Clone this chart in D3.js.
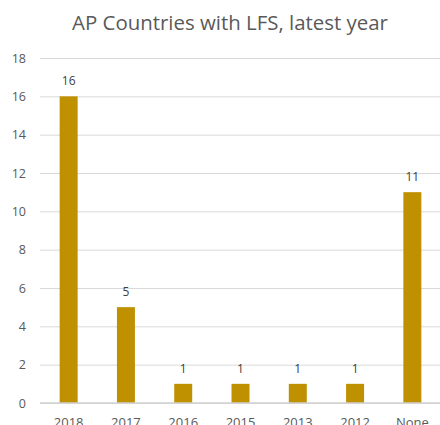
<!DOCTYPE html>
<html>
<head>
<meta charset="utf-8">
<script src="https://cdn.jsdelivr.net/npm/d3@7"></script>
<style>
  html, body { margin: 0; padding: 0; background: #fff; }
  svg { display: block; font-family: "Open Sans", "Noto Sans", sans-serif; }
  svg text { font-family: "Open Sans", "Noto Sans", sans-serif; }
</style>
</head>
<body>
<svg id="chart" width="440" height="425"></svg>
<script>
const categories = ["2018", "2017", "2016", "2015", "2013", "2012", "None"];
const counts = [16, 5, 1, 1, 1, 1, 11];
const yTicks = [0, 2, 4, 6, 8, 10, 12, 14, 16, 18];
const title = "AP Countries with LFS, latest year";

const svg = d3.select("#chart");
const W = 440, H = 425;
const m = { left: 40, right: -1, top: 58, bottom: 22 };

const x = d3.scaleBand()
  .domain(categories)
  .range([m.left, W - m.right])
  .paddingInner(0.686)
  .paddingOuter(0.343);

const y = d3.scaleLinear()
  .domain([0, 18])
  .range([H - m.bottom, m.top]);

// title, sized to span its intended width
const titleText = svg.append("text")
  .attr("x", 230)
  .attr("y", 30)
  .attr("text-anchor", "middle")
  .attr("fill", "#595959")
  .style("font-size", "20px")
  .text(title);
const tw = titleText.node().getComputedTextLength();
titleText.style("font-size", (20 * 316 / tw).toFixed(2) + "px");

// gridlines and value axis labels
const yAxis = d3.axisLeft(y)
  .tickValues(yTicks)
  .tickSize(-(W - m.left))
  .tickPadding(14);

const gy = svg.append("g")
  .attr("transform", `translate(${m.left},0)`)
  .call(yAxis);
gy.select(".domain").remove();
gy.selectAll(".tick line").attr("stroke", "#d9d9d9").attr("stroke-width", 1);
gy.selectAll(".tick text")
  .attr("fill", "#595959")
  .style("font-size", "12.5px");

// bars
svg.append("g")
  .selectAll("rect")
  .data(categories)
  .join("rect")
  .attr("x", d => x(d))
  .attr("width", x.bandwidth())
  .attr("y", (d, i) => y(counts[i]))
  .attr("height", (d, i) => y(0) - y(counts[i]))
  .attr("fill", "#bf9000");

// baseline
svg.append("line")
  .attr("x1", m.left).attr("x2", W)
  .attr("y1", y(0)).attr("y2", y(0))
  .attr("stroke", "#d0d0d0")
  .attr("stroke-width", 1.5);

// data labels
svg.append("g")
  .selectAll("text")
  .data(categories)
  .join("text")
  .attr("x", d => x(d) + x.bandwidth() / 2)
  .attr("y", (d, i) => y(counts[i]) - 11)
  .attr("text-anchor", "middle")
  .attr("fill", "#404040")
  .style("font-size", "12px")
  .text((d, i) => counts[i]);

// category labels
const xAxis = d3.axisBottom(x).tickSize(0).tickPadding(15);
const gx = svg.append("g")
  .attr("transform", `translate(0,${y(0)})`)
  .call(xAxis);
gx.select(".domain").remove();
gx.selectAll(".tick text")
  .attr("fill", "#595959")
  .style("font-size", "13px");
</script>
</body>
</html>
